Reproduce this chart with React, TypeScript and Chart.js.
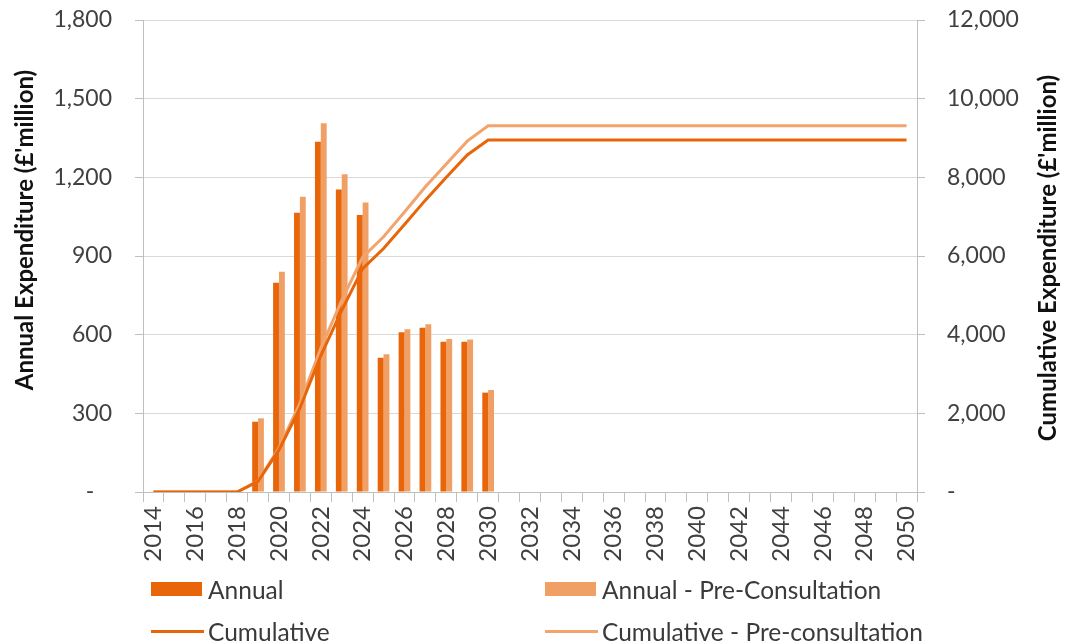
import React, { useEffect, useRef } from 'react';
import { Chart, registerables } from 'chart.js';

Chart.register(...registerables);

const years = [
  '2014', '2015', '2016', '2017', '2018', '2019', '2020', '2021', '2022', '2023',
  '2024', '2025', '2026', '2027', '2028', '2029', '2030', '2031', '2032', '2033',
  '2034', '2035', '2036', '2037', '2038', '2039', '2040', '2041', '2042', '2043',
  '2044', '2045', '2046', '2047', '2048', '2049', '2050',
];

const annual = [
  null, null, null, null, null, 268, 798, 1065, 1336, 1154,
  1056, 512, 609, 626, 573, 573, 379, null, null, null,
  null, null, null, null, null, null, null, null, null, null,
  null, null, null, null, null, null, null,
];

const annualPre = [
  null, null, null, null, null, 281, 840, 1126, 1406, 1212,
  1104, 525, 621, 640, 583, 582, 389, null, null, null,
  null, null, null, null, null, null, null, null, null, null,
  null, null, null, null, null, null, null,
];

const cumulative = [
  0, 0, 0, 0, 0, 270, 1070, 2130, 3470, 4620,
  5680, 6190, 6800, 7420, 8000, 8570, 8950, 8950, 8950, 8950,
  8950, 8950, 8950, 8950, 8950, 8950, 8950, 8950, 8950, 8950,
  8950, 8950, 8950, 8950, 8950, 8950, 8950,
];

const cumulativePre = [
  0, 0, 0, 0, 0, 280, 1120, 2250, 3650, 4870,
  5970, 6490, 7120, 7760, 8340, 8920, 9310, 9310, 9310, 9310,
  9310, 9310, 9310, 9310, 9310, 9310, 9310, 9310, 9310, 9310,
  9310, 9310, 9310, 9310, 9310, 9310, 9310,
];

const leftTitle = "Annual Expenditure (£'million)";
const rightTitle = "Cumulative Expenditure (£'million)";

const DARK = '#E8650A';
const LIGHT = '#F0A064';
const LIGHT_LINE = '#F2A46C';
const FONT = 'Lato';

const legendItems = [
  { label: 'Annual', kind: 'box', color: DARK, left: 151, top: 589 },
  { label: 'Annual - Pre-Consultation', kind: 'box', color: LIGHT, left: 545, top: 589 },
  { label: 'Cumulative', kind: 'line', color: DARK, left: 151, top: 631 },
  { label: 'Cumulative - Pre-consultation', kind: 'line', color: LIGHT_LINE, left: 545, top: 631 },
];

const titlePlugin = {
  id: 'axisTitles',
  afterDraw(chart: any) {
    const ctx = chart.ctx;
    const draw = (text: string, x: number, y: number) => {
      ctx.save();
      ctx.font = `bold 24px ${FONT}`;
      ctx.fillStyle = '#111';
      ctx.textAlign = 'center';
      ctx.textBaseline = 'middle';
      ctx.translate(x, y);
      ctx.rotate(-Math.PI / 2);
      ctx.fillText(text, 0, 0);
      ctx.restore();
    };
    draw(leftTitle, 25, 230);
    draw(rightTitle, 1048, 258);
  },
};

export default function App() {
  const ref = useRef<HTMLCanvasElement | null>(null);

  useEffect(() => {
    document.body.style.margin = '0';
    if (!ref.current) return;
    const chart = new Chart(ref.current, {
      type: 'bar',
      data: {
        labels: years,
        datasets: [
          {
            type: 'bar',
            label: 'Annual',
            data: annual as any,
            backgroundColor: DARK,
            yAxisID: 'y',
            order: 2,
            categoryPercentage: 0.56,
            barPercentage: 1.0,
          },
          {
            type: 'bar',
            label: 'Annual - Pre-Consultation',
            data: annualPre as any,
            backgroundColor: LIGHT,
            yAxisID: 'y',
            order: 2,
            categoryPercentage: 0.56,
            barPercentage: 1.0,
          },
          {
            type: 'line',
            label: 'Cumulative',
            data: cumulative,
            borderColor: DARK,
            backgroundColor: DARK,
            borderWidth: 3,
            pointRadius: 0,
            tension: 0,
            yAxisID: 'y2',
            order: 0,
          },
          {
            type: 'line',
            label: 'Cumulative - Pre-consultation',
            data: cumulativePre,
            borderColor: LIGHT_LINE,
            backgroundColor: LIGHT_LINE,
            borderWidth: 3,
            pointRadius: 0,
            tension: 0,
            yAxisID: 'y2',
            order: 1,
          },
        ] as any,
      },
      options: {
        responsive: false,
        animation: false,
        layout: { padding: { top: 20, left: 0, right: 0, bottom: 0 } },
        plugins: {
          legend: { display: false },
          tooltip: { enabled: false },
        },
        scales: {
          x: {
            offset: true,
            grid: {
              display: true,
              drawOnChartArea: false,
              drawTicks: true,
              tickLength: 10,
              offset: true,
              color: '#bfbfbf',
              tickColor: '#bfbfbf',
            },
            border: { color: '#bfbfbf', width: 1 },
            ticks: {
              autoSkip: false,
              minRotation: 90,
              maxRotation: 90,
              padding: 4,
              color: '#404040',
              font: { family: FONT, size: 24 },
              callback: (_v: any, i: number) => (i % 2 === 0 ? years[i] : ''),
            },
            afterFit: (s: any) => {
              s.height = 150;
            },
          },
          y: {
            position: 'left',
            min: 0,
            max: 1800,
            grid: {
              color: '#d9d9d9',
              tickColor: '#bfbfbf',
              tickLength: 8,
              drawTicks: true,
            },
            border: { color: '#bfbfbf', width: 1 },
            ticks: {
              stepSize: 300,
              padding: 23,
              color: '#404040',
              font: { family: FONT, size: 23 },
              callback: (v: any) => (Number(v) === 0 ? '-   ' : Number(v).toLocaleString('en-US')),
            },
            afterFit: (s: any) => {
              s.width = 143;
              s.paddingTop = 0;
              s.paddingBottom = 0;
            },
          },
          y2: {
            position: 'right',
            min: 0,
            max: 12000,
            grid: {
              drawOnChartArea: false,
              tickColor: '#bfbfbf',
              tickLength: 8,
              drawTicks: true,
            },
            border: { color: '#bfbfbf', width: 1 },
            ticks: {
              stepSize: 2000,
              padding: 22,
              color: '#404040',
              font: { family: FONT, size: 23 },
              callback: (v: any) => (Number(v) === 0 ? '-' : Number(v).toLocaleString('en-US')),
            },
            afterFit: (s: any) => {
              s.width = 154;
              s.paddingTop = 0;
              s.paddingBottom = 0;
            },
          },
        },
      },
      plugins: [titlePlugin],
    });
    return () => chart.destroy();
  }, []);

  return (
    <div style={{ position: 'relative', width: 1071, height: 642, background: '#fff', overflow: 'hidden' }}>
      <canvas ref={ref} width={1071} height={642} style={{ position: 'absolute', left: 0, top: 0 }} />
      {legendItems.map((it) => (
        <div
          key={it.label}
          style={{
            position: 'absolute',
            left: it.left,
            top: it.top - 16,
            height: 32,
            display: 'flex',
            alignItems: 'center',
            fontFamily: FONT,
            fontSize: 24.5,
            color: '#3a3a3a',
            whiteSpace: 'nowrap',
          }}
        >
          <span
            style={{
              display: 'inline-block',
              width: it.kind === 'box' ? 51 : 53,
              height: it.kind === 'box' ? 14 : 3,
              background: it.color,
              marginRight: it.kind === 'box' ? 6 : 4,
            }}
          />
          <span>{it.label}</span>
        </div>
      ))}
    </div>
  );
}
